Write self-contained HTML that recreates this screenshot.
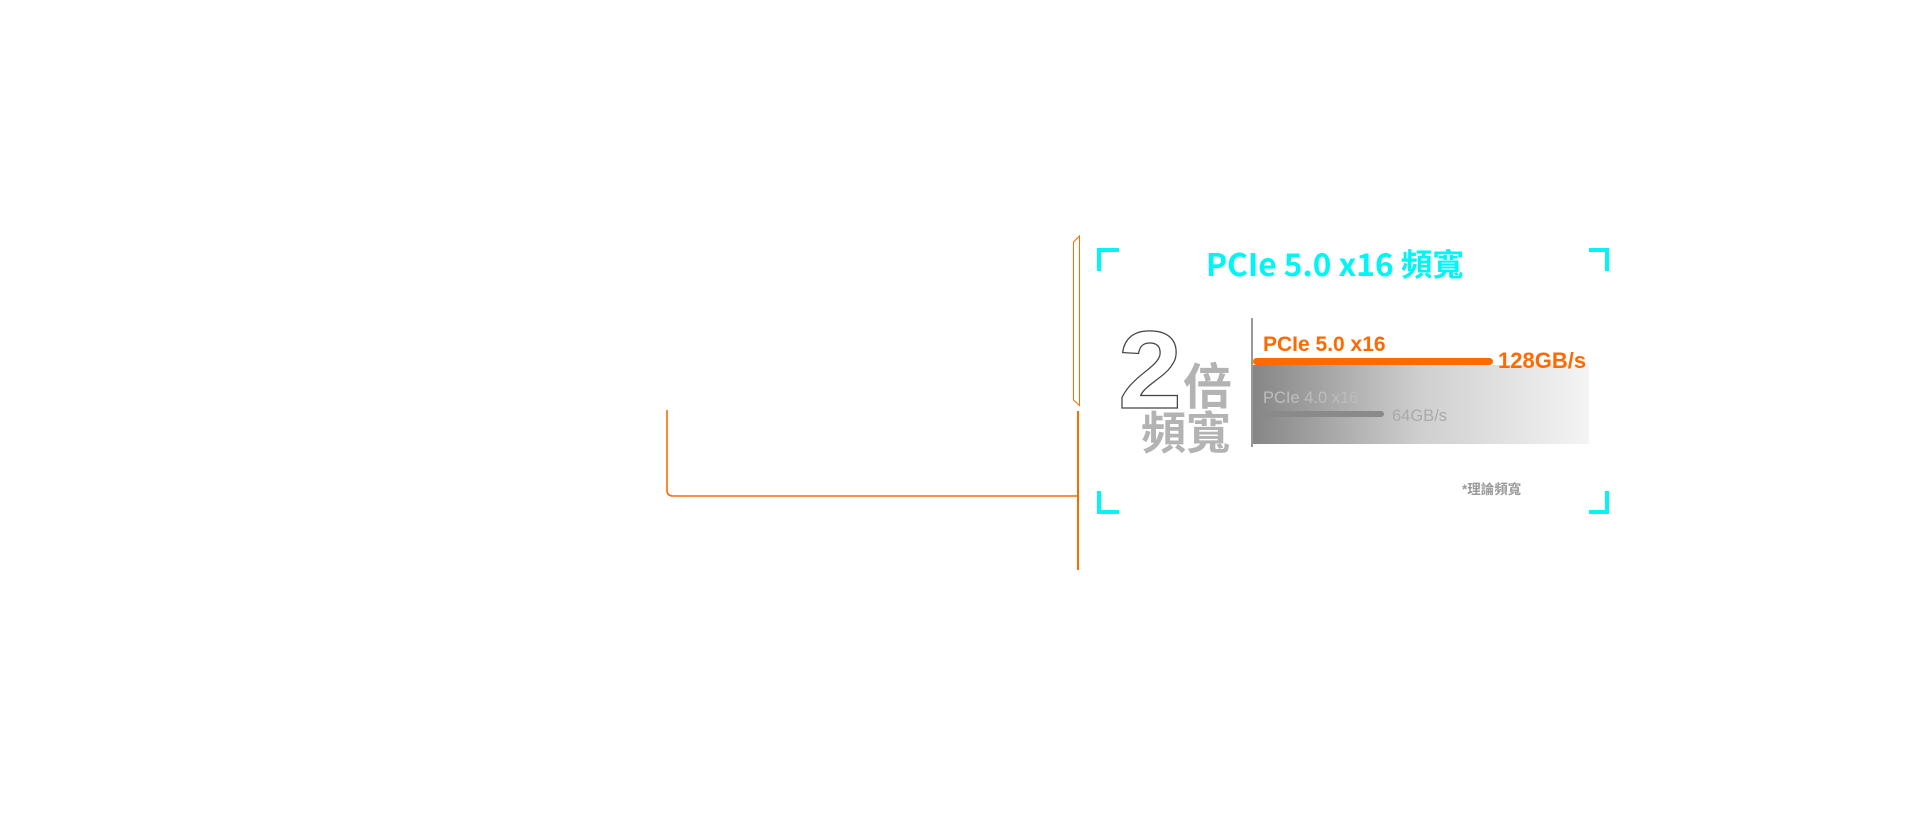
<!DOCTYPE html>
<html><head><meta charset="utf-8"><style>
html,body{margin:0;padding:0;background:#fff;width:1920px;height:840px;overflow:hidden}
svg{display:block}
</style></head><body>
<svg width="1920" height="840" viewBox="0 0 1920 840" xmlns="http://www.w3.org/2000/svg">
<defs>
<linearGradient id="g" x1="0" x2="1" y1="0" y2="0">
<stop offset="0" stop-color="#868686"/><stop offset="0.5" stop-color="#cfcfcf"/><stop offset="1" stop-color="#f4f4f4"/>
</linearGradient>
<linearGradient id="t" x1="0" x2="1">
<stop offset="0" stop-color="#c8c8c8"/><stop offset="1" stop-color="#bdbdbd"/>
</linearGradient>
</defs>
<path d="M1079.5 236 L1073.5 242 L1073.5 400 L1079.5 405.5 Z" fill="none" stroke="#ff6a00" stroke-width="1"/>
<line x1="1078" y1="411" x2="1078" y2="570" stroke="#ff6a00" stroke-width="2"/>
<path d="M667 410 L667 490 Q667 496 673 496 L1077 496" fill="none" stroke="#ff6a00" stroke-width="1.6"/>
<g fill="none" stroke="#00f5f5" stroke-width="4">
<path d="M1099 271 L1099 250 L1119 250"/>
<path d="M1589 250 L1607 250 L1607 271"/>
<path d="M1099 491 L1099 512 L1119 512"/>
<path d="M1589 512 L1607 512 L1607 491"/>
</g>
<text x="1206" y="276" font-family="'Noto Sans CJK TC',sans-serif" font-weight="bold" font-size="31" fill="#00f5f5" textLength="258" lengthAdjust="spacingAndGlyphs">PCIe 5.0 x16 頻寬</text>
<text x="1118" y="408" font-family="'Liberation Sans',sans-serif" font-weight="bold" font-size="110" fill="#fff" stroke="#444" stroke-width="1.2" textLength="64" lengthAdjust="spacingAndGlyphs">2</text>
<text x="1183" y="404" font-family="'Noto Sans CJK TC',sans-serif" font-weight="bold" font-size="49" fill="#b3b3b3">倍</text>
<text x="1141" y="449" font-family="'Noto Sans CJK TC',sans-serif" font-weight="bold" font-size="45" fill="#b3b3b3">頻寬</text>
<line x1="1252" y1="318" x2="1252" y2="447" stroke="#999" stroke-width="2"/>
<rect x="1253" y="365" width="336" height="79" fill="url(#g)"/>
<rect x="1253" y="358" width="240" height="7" rx="3.5" fill="#ff6a00"/>
<text x="1263" y="351" font-family="'Liberation Sans',sans-serif" font-weight="bold" font-size="21" fill="#ff6a00">PCIe 5.0 x16</text>
<text x="1498" y="368" font-family="'Liberation Sans',sans-serif" font-weight="bold" font-size="22" fill="#ff6a00">128GB/s</text>
<text x="1263" y="403" font-family="'Liberation Sans',sans-serif" font-size="16.5" fill="url(#t)" opacity="0.85">PCIe 4.0 x16</text>
<rect x="1263" y="411" width="121" height="6" rx="3" fill="#8a8a8a"/>
<text x="1392" y="421" font-family="'Liberation Sans',sans-serif" font-size="16.5" fill="#aaa">64GB/s</text>
<text x="1462" y="494" font-family="'Liberation Sans','Noto Sans CJK TC',sans-serif" font-weight="bold" font-size="13.5" fill="#9a9a9a">*理論頻寬</text>
</svg>
</body></html>
